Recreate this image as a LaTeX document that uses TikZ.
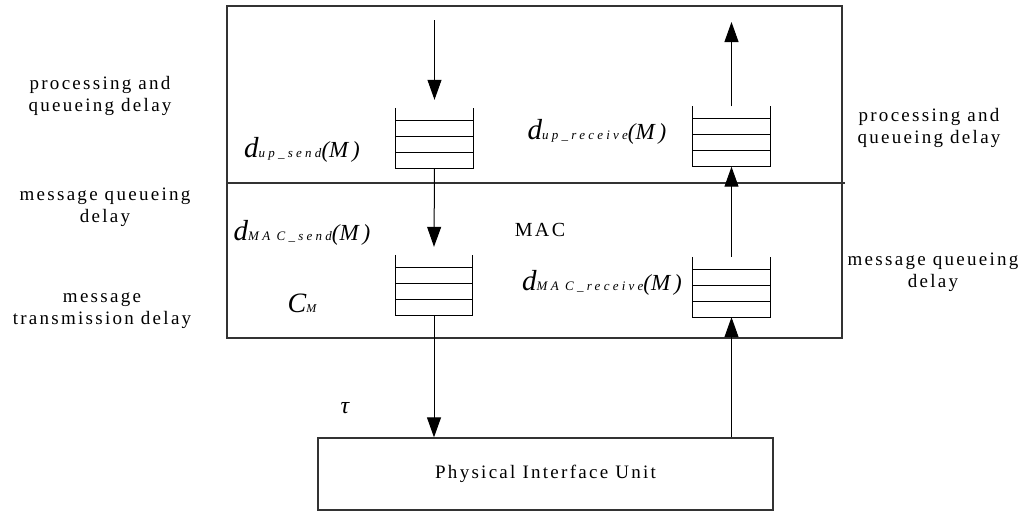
\documentclass[tikz,border=0pt]{standalone}
\usepackage{fontspec}
\setmainfont{Liberation Serif}
\newfontfamily\spc[LetterSpace=12]{Liberation Serif}
\newfontfamily\subspc[LetterSpace=25]{Liberation Serif}
\usetikzlibrary{arrows.meta}

\newcommand{\queue}[3]{%
	\node[qbox] (#1) at (#2,#3) {};
	\draw[qline] (#1.north west) -- (#1.south west) -- (#1.south east) -- (#1.north east);
	\foreach \h in {16,32,48}
		\draw[qline] ([yshift=\h pt]#1.south west) -- ([yshift=\h pt]#1.south east);
}
\newcommand{\dl}[1]{{\fontsize{29}{29}\itshape d}{\fontsize{13}{13}\subspc\itshape #1}{\fontsize{23}{23}\itshape (M\,)}}

\begin{document}
\begin{tikzpicture}[x=1pt,y=-1pt,
	arr/.style={line width=1pt,-{Triangle[length=20pt,width=14pt]}},
	qbox/.style={minimum width=77pt,minimum height=60pt,inner sep=0pt},
	qline/.style={line width=1pt},
	frame/.style={draw=black!80,line width=1.3pt,inner sep=0pt},
	lbl/.style={align=center,font=\fontsize{19}{22}\spc}]
	
	\useasboundingbox (0,0) rectangle (1028,512);
	
	\node[frame,minimum width=615pt,minimum height=332pt] (host) at (534.5,172) {};
	\draw[frame] (227,183) -- (845,183);
	\node[frame,minimum width=455pt,minimum height=72pt,font=\fontsize{19}{19}\spc] (phy) at (545.5,474) {Physical Interface Unit};
	
	\queue{sendup}{434.5}{138}
	\queue{sendmac}{434}{285}
	\queue{recvup}{731.5}{136.5}
	\queue{recvmac}{731.5}{287}
	
	\coordinate (sendin) at (434.5,20);
	\coordinate (recvout) at (731.5,22);
	
	\path[arr] (sendin) edge ([yshift=8pt]sendup.north);
	\path[arr] (sendup.south) edge ([yshift=8pt]sendmac.north);
	\path[arr] (sendmac.south) edge (sendmac.south |- phy.north);
	\path[arr] (recvmac.south |- phy.north) edge (recvmac.south);
	\path[arr] (recvmac.north) edge (recvup.south);
	\path[arr] (recvup.north) edge (recvout);
	
	\node[lbl] (lproc) at (100,96) {processing and\\queueing delay};
	\node[lbl] (lmq) at (105,207) {message queueing\\delay};
	\node[lbl] (ltx) at (102,311) {message\\transmission delay};
	\node[lbl] (rproc) at (929,128) {processing and\\queueing delay};
	\node[lbl] (rmq) at (933,272) {message queueing\\delay};
	
	\node (dupsend) at (302,150) {\dl{up\_send}};
	\node (duprecv) at (597,132) {\dl{up\_receive}};
	\node (dmacsend) at (302,233) {\dl{MA C\_send}};
	\node (dmacrecv) at (602,283) {\dl{MA C\_receive}};
	\node (mac) at (540,230) {\fontsize{20}{20}\spc MAC};
	\node (cm) at (302,303) {{\fontsize{28}{28}\itshape C}{\fontsize{12}{12}\itshape M}};
	\node (tau) at (345,408) {\fontsize{24}{24}\itshape τ};
	
\end{tikzpicture}
\end{document}
